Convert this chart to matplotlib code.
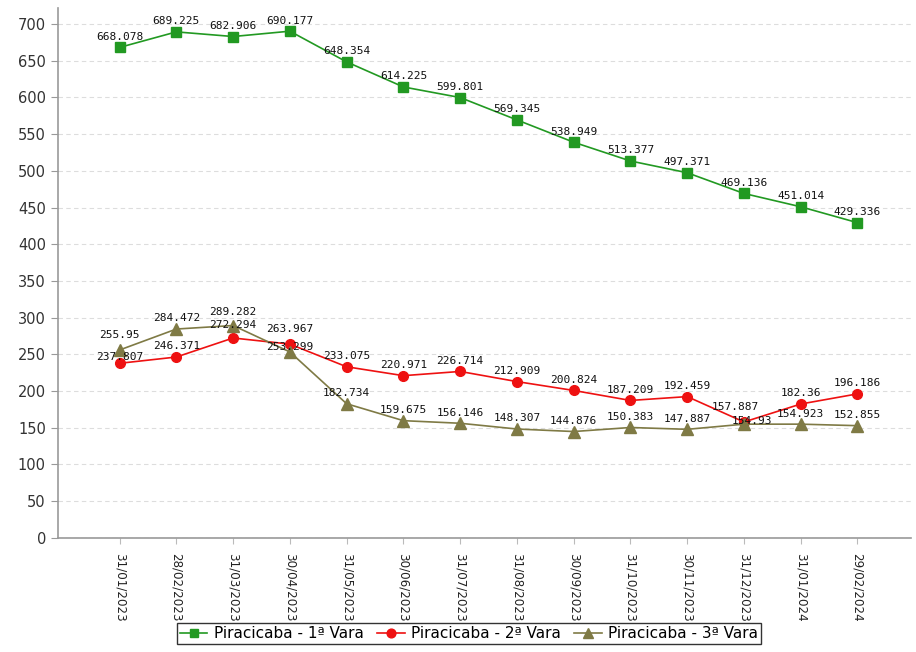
import matplotlib
matplotlib.use("Agg")
import matplotlib.pyplot as plt

dates = ["31/01/2023", "28/02/2023", "31/03/2023", "30/04/2023", "31/05/2023", "30/06/2023",
         "31/07/2023", "31/08/2023", "30/09/2023", "31/10/2023", "30/11/2023", "31/12/2023",
         "31/01/2024", "29/02/2024"]
vara1 = [668.078, 689.225, 682.906, 690.177, 648.354, 614.225, 599.801, 569.345, 538.949,
         513.377, 497.371, 469.136, 451.014, 429.336]
vara2 = [237.807, 246.371, 272.294, 263.967, 233.075, 220.971, 226.714, 212.909, 200.824,
         187.209, 192.459, 157.887, 182.36, 196.186]
vara3 = [255.95, 284.472, 289.282, 253.299, 182.734, 159.675, 156.146, 148.307, 144.876,
         150.383, 147.887, 154.93, 154.923, 152.855]
labels = ["Piracicaba - 1ª Vara", "Piracicaba - 2ª Vara", "Piracicaba - 3ª Vara"]

fig = plt.figure(figsize=(9.16, 6.52), dpi=100)
ax = fig.add_axes([0.063, 0.175, 0.932, 0.813])
x = list(range(len(dates)))

# small label nudges (points) to keep crowded labels readable
nudge = {(1, 3): (0, 3), (2, 3): (0, -4), (1, 11): (-6, 3), (2, 11): (6, -5),
         (1, 0): (0, -3), (2, 0): (0, 3), (1, 2): (0, 2), (2, 2): (0, 2)}

styles = [(vara1, "#229922", "s", 6.5), (vara2, "#ee1111", "o", 7), (vara3, "#7f7a45", "^", 8)]
for si, ((vals, col, mk, ms), lab) in enumerate(zip(styles, labels)):
    ax.plot(x, vals, color=col, marker=mk, markersize=ms, linewidth=1.2, label=lab, zorder=3)
    for xi, v in zip(x, vals):
        dx, dy = nudge.get((si, xi), (0, 0))
        ax.annotate(f"{v:g}", (xi, v), xytext=(dx, 4 + dy), textcoords="offset points",
                    ha="center", va="bottom", fontsize=8, family="DejaVu Sans Mono",
                    color="#111111", zorder=4)

ax.set_xlim(-1.09, 13.95)
ax.set_ylim(0, 722)
ax.set_yticks(range(0, 701, 50))
ax.set_xticks(x)
ax.set_xticklabels(dates, rotation=270, fontsize=8.6, color="#222222")
ax.tick_params(axis="y", labelsize=10.5, colors="#333333", length=5, color="#999999")
ax.tick_params(axis="x", length=4, color="#bbbbbb", pad=7)
ax.yaxis.grid(True, linestyle=(0, (4, 3)), color="#dddddd", linewidth=0.8)
ax.set_axisbelow(True)
for s in ["top", "right"]:
    ax.spines[s].set_visible(False)
for s in ["left", "bottom"]:
    ax.spines[s].set_color("#999999")
    ax.spines[s].set_linewidth(1.2)

leg = fig.legend(loc="lower center", bbox_to_anchor=(0.512, 0.0), ncol=3, fontsize=11,
                 frameon=True, fancybox=False, edgecolor="black", handlelength=1.8,
                 handletextpad=0.4, columnspacing=0.9, borderpad=0.2, markerscale=0.9)
leg.get_frame().set_linewidth(1.0)

fig.savefig("out.png", dpi=100)
